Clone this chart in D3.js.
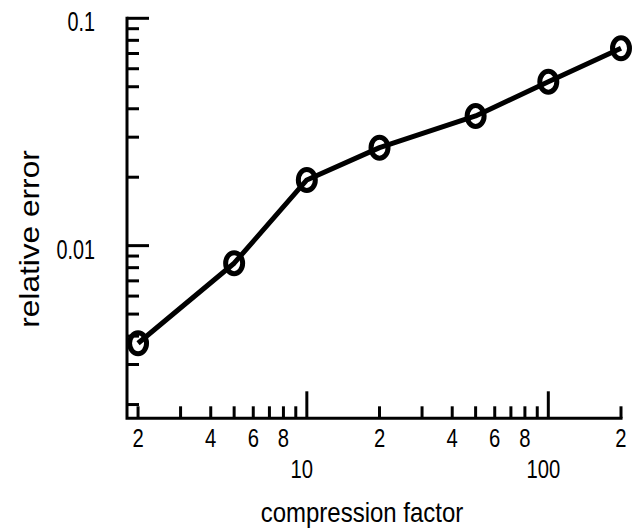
<!DOCTYPE html>
<html><head><meta charset="utf-8">
<script src="https://cdn.jsdelivr.net/npm/d3@7"></script>
<style>html,body{margin:0;padding:0;background:#fff;} text{font-family:"Liberation Sans",Arial,sans-serif;fill:#000;}</style>
</head><body><svg id="c" width="633" height="529"></svg>
<script>
const factors = [2, 5, 10, 20, 50, 100, 200];
const errors = [0.00372, 0.00837, 0.01945, 0.02698, 0.03718, 0.0526, 0.0738];
const xMinorTicks = [2,3,4,5,6,7,8,9,20,30,40,50,60,70,80,90,200];
const xMajorTicks = [10, 100];
const xMinorLabelVals = [2,4,6,8,20,40,60,80,200];
const xMinorLabelText = ["2","4","6","8","2","4","6","8","2"];
const xMajorLabelText = ["10","100"];
const yMajorTicks = [0.01, 0.1];
const yMajorLabelText = ["0.01","0.1"];
const yMinorTicks = [0.002,0.003,0.004,0.005,0.006,0.007,0.008,0.009,0.02,0.03,0.04,0.05,0.06,0.07,0.08,0.09];
const xTitle = "compression factor";
const yTitle = "relative error";

const svg = d3.select("#c");
const x = d3.scaleLog().domain([1.8, 200]).range([127, 621]);
const y = d3.scaleLog().domain([0.00174, 0.1]).range([418.3, 18.3]);
const x0 = x.range()[0], y0 = y.range()[0];

const g = svg.append("g");
g.append("path").attr("d", `M${x0},${y.range()[1]}V${y0}H${x.range()[1]}`)
  .attr("fill","none").attr("stroke","#000").attr("stroke-width",3).attr("stroke-linecap","square");
g.selectAll(".xm").data(xMinorTicks).join("line")
  .attr("x1",d=>x(d)).attr("x2",d=>x(d)).attr("y1",y0).attr("y2",y0-12)
  .attr("stroke","#000").attr("stroke-width",3);
g.selectAll(".xM").data(xMajorTicks).join("line")
  .attr("x1",d=>x(d)).attr("x2",d=>x(d)).attr("y1",y0).attr("y2",y0-27)
  .attr("stroke","#000").attr("stroke-width",3);
g.selectAll(".ym").data(yMinorTicks).join("line")
  .attr("y1",d=>y(d)).attr("y2",d=>y(d)).attr("x1",x0).attr("x2",x0+12)
  .attr("stroke","#000").attr("stroke-width",3);
g.selectAll(".yM").data(yMajorTicks).join("line")
  .attr("y1",d=>y(d)).attr("y2",d=>y(d)).attr("x1",x0).attr("x2",x0+22)
  .attr("stroke","#000").attr("stroke-width",3);

const sx = 0.92, sy = 1.2;
g.selectAll(".xl").data(xMinorLabelVals).join("text")
  .attr("transform",d=>`translate(${x(d)},447) scale(${sx},${sy})`).attr("text-anchor","middle").attr("font-size",22)
  .text((d,i)=>xMinorLabelText[i]);
g.selectAll(".xL").data(xMajorTicks).join("text")
  .attr("transform",d=>`translate(${x(d)-5},478) scale(${sx},${sy})`).attr("text-anchor","middle").attr("font-size",22)
  .text((d,i)=>xMajorLabelText[i]);
g.selectAll(".yL").data(yMajorTicks).join("text")
  .attr("transform",d=>`translate(95,${y(d)+13}) scale(0.9,1.25)`).attr("text-anchor","end").attr("font-size",22)
  .text((d,i)=>yMajorLabelText[i]);
svg.append("text").attr("transform","translate(362,522) scale(1,1.15)").attr("text-anchor","middle").attr("font-size",24).text(xTitle);
svg.append("text").attr("transform","translate(39,239) rotate(-90) scale(1.13,1)").attr("text-anchor","middle").attr("font-size",28).text(yTitle);

const line = d3.line().x((d,i)=>x(factors[i])).y(d=>y(d));
svg.append("path").datum(errors).attr("d",line).attr("fill","none")
  .attr("stroke","#000").attr("stroke-width",5).attr("stroke-linejoin","round");
svg.selectAll(".mk").data(errors).join("ellipse")
  .attr("cx",(d,i)=>x(factors[i])).attr("cy",d=>y(d)).attr("rx",8.5).attr("ry",10.5)
  .attr("fill","none").attr("stroke","#000").attr("stroke-width",5);
</script></body></html>
